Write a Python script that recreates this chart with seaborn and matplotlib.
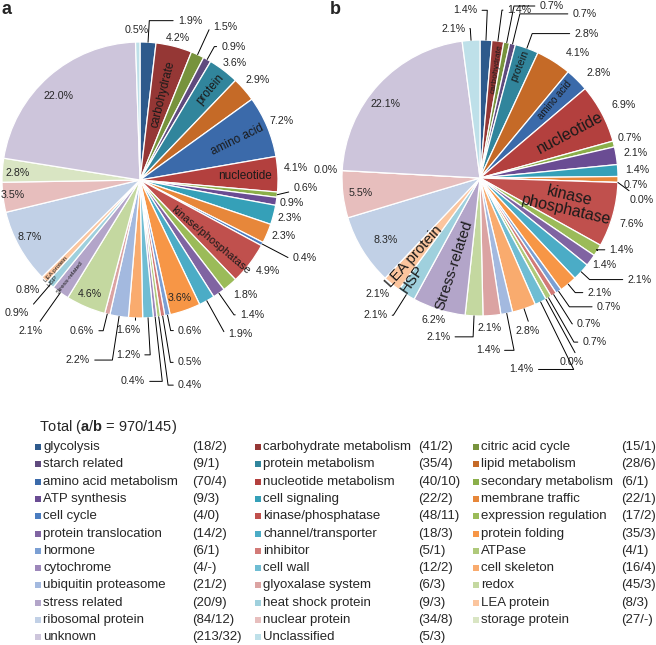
import numpy as np
import matplotlib.pyplot as plt
import seaborn as sns

# categories in pie order (clockwise from 12 o'clock) == legend order (row-wise)
categories = ["glycolysis", "carbohydrate metabolism", "citric acid cycle",
              "starch related", "protein metabolism", "lipid metabolism",
              "amino acid metabolism", "nucleotide metabolism", "secondary metabolism",
              "ATP synthesis", "cell signaling", "membrane traffic",
              "cell cycle", "kinase/phosphatase", "expression regulation",
              "protein translocation", "channel/transporter", "protein folding",
              "hormone", "inhibitor", "ATPase",
              "cytochrome", "cell wall", "cell skeleton",
              "ubiquitin proteasome", "glyoxalase system", "redox",
              "stress related", "heat shock protein", "LEA protein",
              "ribosomal protein", "nuclear protein", "storage protein",
              "unknown", "Unclassified"]

counts_a = [18, 41, 15, 9, 35, 28, 70, 40, 6, 9, 22, 22, 4, 48, 17, 14, 18, 35,
            6, 5, 4, 4, 12, 16, 21, 6, 45, 20, 9, 8, 84, 34, 27, 213, 5]
# None = "-" in the legend
counts_b = [2, 2, 1, 1, 4, 6, 4, 10, 1, 3, 2, 1, 0, 11, 2, 2, 3, 3,
            1, 1, 1, None, 2, 4, 2, 3, 3, 9, 3, 3, 12, 8, None, 32, 3]

colors = ["#2E5A8C", "#953735", "#77933C", "#5F4A7E", "#31859C", "#C56A27",
          "#3B6AAA", "#B3403E", "#8BAF4A", "#6A4C93", "#35A0B8", "#E7873A",
          "#4A7CC0", "#C0504D", "#9BBB59", "#8064A2", "#4BACC6", "#F79646",
          "#7B9FD3", "#D27A77", "#AFC97A", "#9D87BA", "#6FBDD3", "#F9AB6E",
          "#A3B9DF", "#DBA3A2", "#C4D8A0", "#B3A5C9", "#9FD0DD", "#FBC59E",
          "#C1D0E6", "#E7BEBD", "#D9E5C3", "#CDC5DB", "#BEE0E9"]

# wedge names written inside the pies
names_a = {1: "carbohydrate", 4: "protein", 6: "amino acid", 7: "nucleotide",
           13: "kinase/phosphatase", 27: "Stress-related", 28: "HSP", 29: "LEA protein"}
names_b = {1: "carbohydrate", 4: "protein", 6: "amino acid", 7: "nucleotide",
           13: "kinase\nphosphatase", 27: "Stress-related", 28: "HSP", 29: "LEA protein"}

# ---- layout / style ----
sns.set_theme(style="white")
plt.rcParams["font.family"] = ["Liberation Sans", "DejaVu Sans"]
plt.rcParams["mathtext.fontset"] = "custom"
plt.rcParams["mathtext.rm"] = "Liberation Sans"
plt.rcParams["mathtext.bf"] = "Liberation Sans:bold"
palette = sns.color_palette(colors)
TXT = "#262626"
R = 138.0  # pie radius in px

# percent-label positions (angle clockwise from top, radius) per wedge
lab_a = [(17.4, 1.21), (15, 1.065), (29, 1.27), (35, 1.18), (39, 1.09), (49.7, 1.12),
         (67.4, 1.11), (85.6, 1.13), (92.8, 1.2), (98.6, 1.11), (104.2, 1.12), (111.3, 1.12),
         (115.3, 1.32), (125.4, 1.14), (137.6, 1.13), (140.3, 1.27), (147, 1.33), (161.3, 0.9),
         (161.6, 1.15), (164.7, 1.37), (166.3, 1.53), (182, 1.46), (183.9, 1.27), (184.6, 1.09),
         (199, 1.38), (201, 1.17), (203.9, 0.9), (216, 1.35), (222.8, 1.31), (225.5, 1.14),
         (242.6, 0.9), (263.3, 0.93), (273.3, 0.89), (315.7, 0.85), (358.9, 1.09)]
lead_a = {0, 2, 3, 8, 12, 15, 16, 18, 19, 20, 21, 22, 23, 24, 25, 27, 28}
lab_b = [(355, 1.22), (13.3, 1.25), (22.6, 1.35), (32.5, 1.41), (36.4, 1.3), (37.9, 1.15),
         (48.5, 1.15), (63, 1.17), (75, 1.12), (81, 1.14), (87, 1.14), (92.6, 1.13),
         (97.7, 1.18), (106.7, 1.15), (116.9, 1.15), (125, 1.1), (122.5, 1.37), (133.8, 1.2),
         (135, 1.32), (143.2, 1.32), (145.1, 1.45), (153.6, 1.49), (167.7, 1.42), (162.7, 1.16),
         (177.4, 1.25), (176.2, 1.09), (194.7, 1.19), (198.3, 1.08), (217.3, 1.25), (221.6, 1.12),
         (236.9, 0.82), (262.9, 0.87), (273, 1.12), (308.3, 0.87), (349.8, 1.1)]
lead_b = {0, 1, 2, 3, 4, 12, 14, 16, 17, 18, 19, 20, 21, 22, 23, 24, 26, 28, 34}

# name positions: angle, radius, rotation, fontsize
nstyle_a = {1: (15, 0.64, 76, 8.5), 4: (37.6, 0.83, 50, 8.5), 6: (67.6, 0.76, 26, 8.5),
            7: (88, 0.76, 0, 8.5), 13: (130.6, 0.67, -40, 8.0), 27: (215.8, 0.87, 52, 4.6),
            28: (220.7, 0.97, 49, 4.6), 29: (223.3, 0.89, 48, 4.5)}
nstyle_b = {1: (8.8, 0.8, 82, 6), 4: (19.5, 0.86, 68, 7.7), 6: (43.9, 0.78, 50, 7),
            7: (63.7, 0.73, 28, 11.5), 13: (105.9, 0.66, -13, 11.5), 27: (196.6, 0.66, 72, 10.8),
            28: (213.7, 0.88, 55, 10.8), 29: (220.2, 0.74, 48, 10.8)}


def polar(theta, r):
    t = np.deg2rad(theta)
    return r * np.sin(t), r * np.cos(t)


def draw_pie(ax, counts, lab_pos, leaders, names, nstyle):
    vals = np.array([0 if c is None else c for c in counts], dtype=float)
    ax.pie(vals, colors=palette, startangle=90, counterclock=False, radius=1,
           wedgeprops=dict(edgecolor="white", linewidth=0.9))
    pct = vals / vals.sum() * 100
    edges = np.concatenate([[0], np.cumsum(vals)]) / vals.sum() * 360
    mids = (edges[:-1] + edges[1:]) / 2
    for i, p in enumerate(pct):
        x, y = polar(*lab_pos[i])
        if i in leaders:
            ex, ey = polar(mids[i], 1.0)
            ang = 90 - mids[i]
            if abs(np.sin(np.deg2rad(ang))) > 0.45:
                cs = f"angle,angleA=0,angleB={ang:.2f},rad=0"
            else:
                cs = "arc3"
            ax.annotate(f"{p:.1f}%", xy=(ex, ey), xytext=(x, y), ha="center", va="center",
                        fontsize=7.7, color=TXT,
                        arrowprops=dict(arrowstyle="-", lw=0.7, color="black",
                                        shrinkA=1, shrinkB=0, connectionstyle=cs))
        else:
            ax.text(x, y, f"{p:.1f}%", ha="center", va="center", fontsize=7.7, color=TXT)
    for i, name in names.items():
        th, r, rot, fs = nstyle[i]
        x, y = polar(th, r)
        ax.text(x, y, name, ha="center", va="center", rotation=rot, fontsize=fs,
                color="#1a1a1a", linespacing=1.0, rotation_mode="anchor")


W, H = 656, 645
fig = plt.figure(figsize=(W / 100, H / 100), dpi=100)

# overlay axes in pixel units for legend and panel letters
ax_l = fig.add_axes([0, 0, 1, 1])
ax_l.set_xlim(0, W)
ax_l.set_ylim(H, 0)
ax_l.axis("off")

ax_a = fig.add_axes([0, (H - 420) / H, 330 / W, 420 / H])
draw_pie(ax_a, counts_a, lab_a, lead_a, names_a, nstyle_a)
ax_a.set_xlim(-140 / R, 190 / R)
ax_a.set_ylim((180 - 420) / R, 180 / R)
ax_a.set_aspect("auto")
ax_a.patch.set_visible(False)

ax_b = fig.add_axes([330 / W, (H - 420) / H, 326 / W, 420 / H])
draw_pie(ax_b, counts_b, lab_b, lead_b, names_b, nstyle_b)
ax_b.set_xlim(-150 / R, 176 / R)
ax_b.set_ylim((178 - 420) / R, 178 / R)
ax_b.set_aspect("auto")
ax_b.patch.set_visible(False)

ax_l.text(6, 10, "a", fontsize=13, fontweight="bold", ha="center", va="center")
ax_l.text(335, 10, "b", fontsize=13, fontweight="bold", ha="center", va="center")

# legend block
ax_l.text(39, 427, r"Total ($\mathbf{a}$/$\mathbf{b}$ = 970/145)", fontsize=10.5,
          ha="left", va="center", color=TXT)
col_name = [43, 263, 481]
col_cnt = [192, 418, 621]
row0, dy = 447, 17.3
for i, cat in enumerate(categories):
    r, c = divmod(i, 3)
    y = row0 + r * dy
    ax_l.scatter(col_name[c] - 5, y, marker="s", s=16, color=palette[i], linewidths=0)
    ax_l.text(col_name[c], y, cat, fontsize=9.5, ha="left", va="center", color=TXT)
    b = "-" if counts_b[i] is None else counts_b[i]
    ax_l.text(col_cnt[c], y, f"({counts_a[i]}/{b})", fontsize=9.5, ha="left",
              va="center", color=TXT)

fig.savefig("out.png", dpi=100)
